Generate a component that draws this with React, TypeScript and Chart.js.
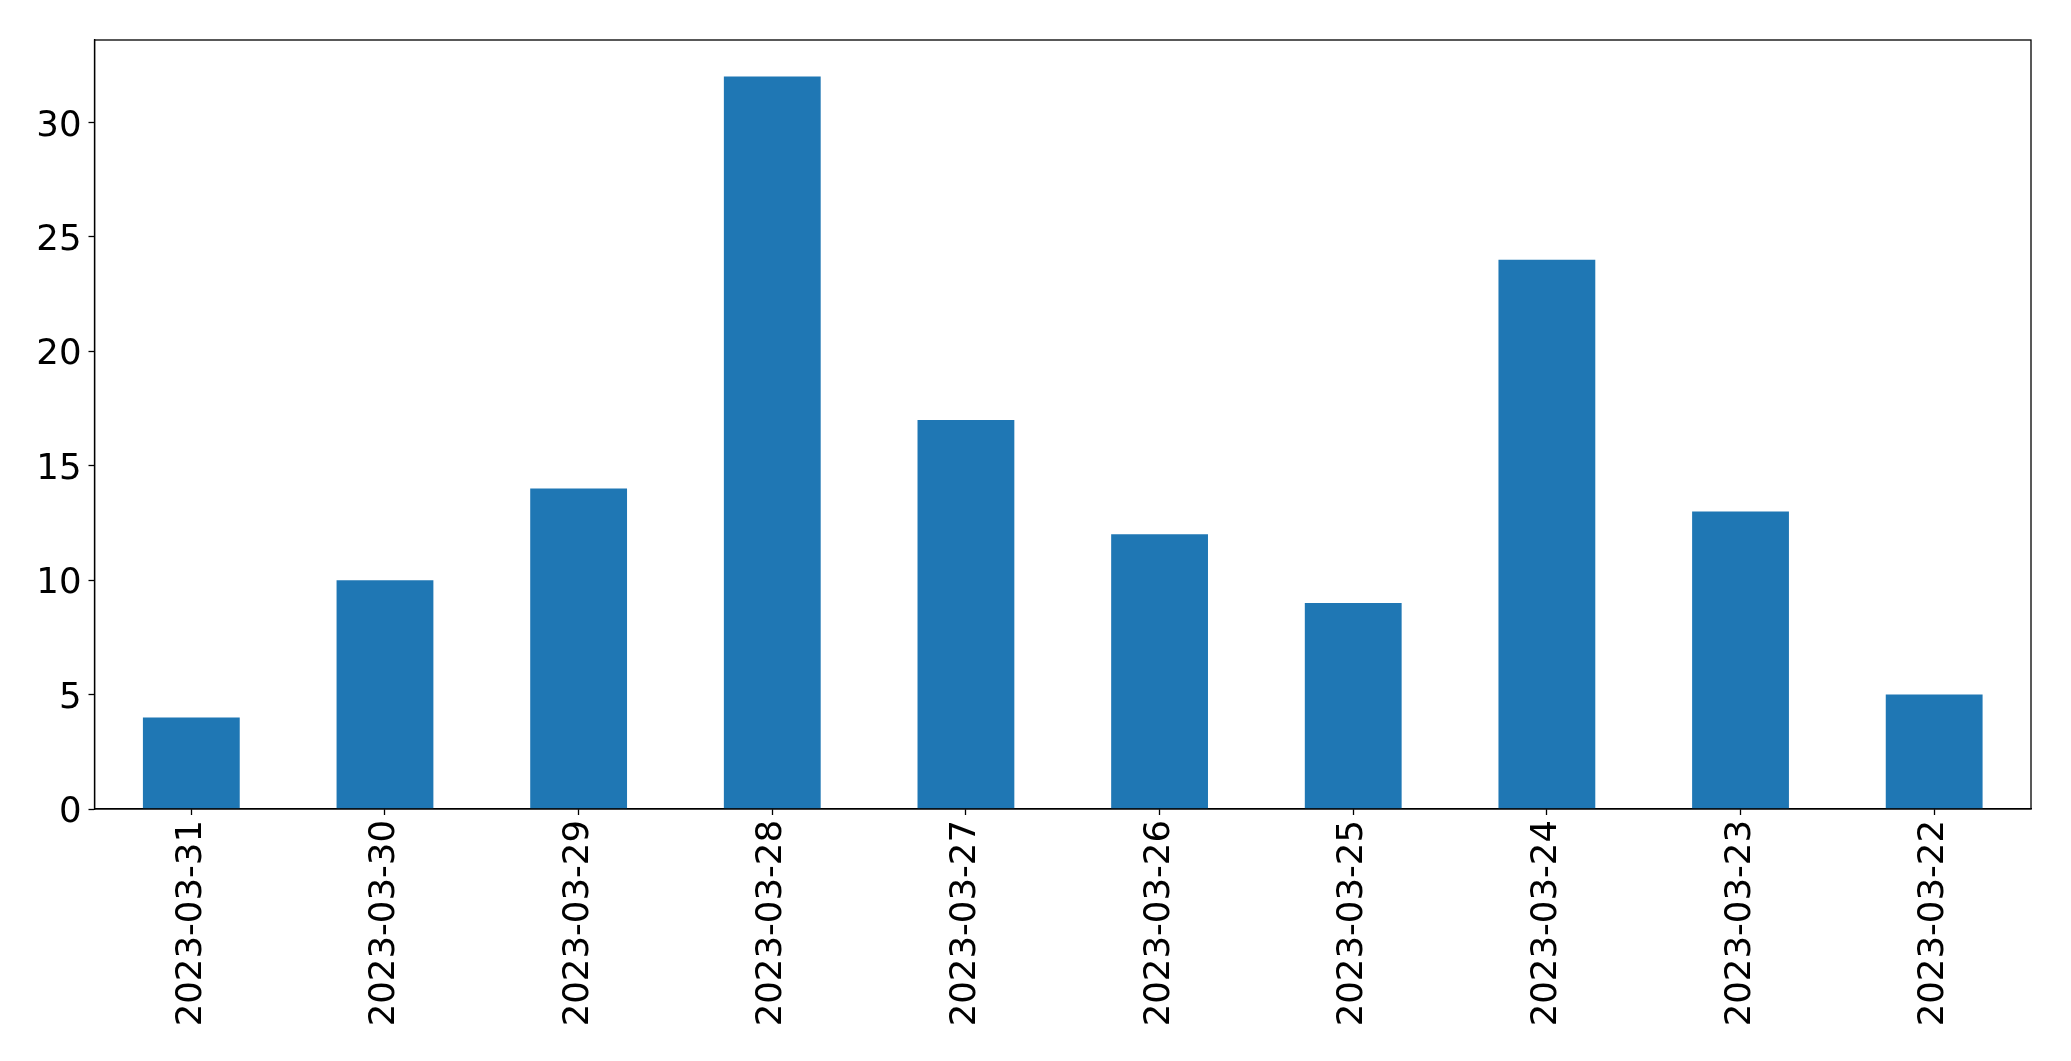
import React, { useEffect, useRef } from "react";
import { Chart, registerables } from "chart.js";

Chart.register(...registerables);

const categories = [
  "2023-03-31", "2023-03-30", "2023-03-29", "2023-03-28", "2023-03-27",
  "2023-03-26", "2023-03-25", "2023-03-24", "2023-03-23", "2023-03-22",
];
const values = [4, 10, 14, 32, 17, 12, 9, 24, 13, 5];
const yTicks = [0, 5, 10, 15, 20, 25, 30];
const yMax = 33.6;

const W = 2071;
const H = 1061;
const FONT = "'DejaVu Sans', sans-serif";

const framePlugin = {
  id: "frame",
  afterDraw(chart: any) {
    const { ctx, chartArea } = chart;
    ctx.save();
    ctx.strokeStyle = "#000";
    ctx.lineWidth = 1.3;
    ctx.strokeRect(chartArea.left, chartArea.top, chartArea.right - chartArea.left, chartArea.bottom - chartArea.top);
    ctx.restore();
  },
};

export default function App() {
  const ref = useRef<HTMLCanvasElement>(null);
  useEffect(() => {
    if (!ref.current) return;
    const chart = new Chart(ref.current, {
      type: "bar",
      data: {
        labels: categories,
        datasets: [
          {
            data: values,
            backgroundColor: "#1f77b4",
            barPercentage: 0.5,
            categoryPercentage: 1,
          },
        ],
      },
      options: {
        animation: false,
        responsive: false,
        maintainAspectRatio: false,
        layout: { padding: { left: 0, top: 40, right: 40, bottom: 0 } },
        plugins: { legend: { display: false }, tooltip: { enabled: false } },
        scales: {
          x: {
            offset: true,
            grid: { drawOnChartArea: false, drawTicks: true, tickLength: 6, tickColor: "#000", tickWidth: 1.3, offset: false },
            border: { display: true, color: "#000", width: 1.3 },
            ticks: {
              color: "#000",
              font: { family: FONT, size: 35.5 },
              minRotation: 90,
              maxRotation: 90,
              padding: 5,
              autoSkip: false,
            },
            afterFit(scale: any) {
              scale.height = 252;
            },
          },
          y: {
            min: 0,
            max: yMax,
            grid: { drawOnChartArea: false, drawTicks: true, tickLength: 6, tickColor: "#000", tickWidth: 1.3 },
            border: { display: true, color: "#000", width: 1.3 },
            ticks: {
              color: "#000",
              font: { family: FONT, size: 35.5 },
              padding: 7,
              labelOffset: 4,
            },
            afterBuildTicks(scale: any) {
              scale.ticks = yTicks.map((v) => ({ value: v }));
            },
            afterFit(scale: any) {
              scale.width = 94.5;
            },
          },
        },
      },
      plugins: [framePlugin],
    });
    return () => chart.destroy();
  }, []);
  return (
    <div style={{ position: "fixed", left: 0, top: 0, width: W, height: H, background: "#fff" }}>
      <canvas ref={ref} width={W} height={H} style={{ width: W, height: H }} />
    </div>
  );
}
